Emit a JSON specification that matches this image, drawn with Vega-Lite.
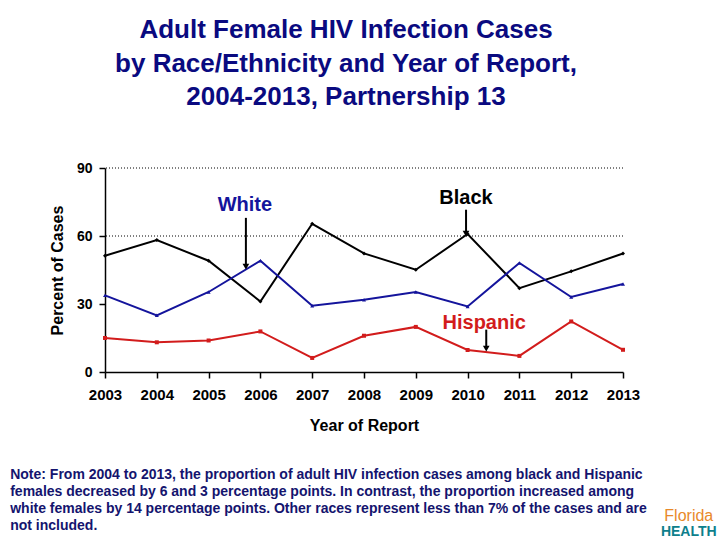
{
  "$schema": "https://vega.github.io/schema/vega-lite/v6.json",
  "autosize": {"type": "none"},
  "width": 518,
  "height": 204,
  "padding": {"left": 105, "top": 168, "right": 97, "bottom": 168},
  "background": "white",
  "config": {
    "font": "Liberation Sans",
    "view": {"stroke": null}
  },
  "title": {
    "text": ["Adult Female HIV Infection Cases", "by Race/Ethnicity and Year of Report,", "2004-2013, Partnership 13"],
    "anchor": "middle",
    "frame": "group",
    "dx": -18,
    "offset": 51,
    "fontSize": 26,
    "fontWeight": "bold",
    "color": "#0a0a80",
    "lineHeight": 33.5,
    "font": "Liberation Sans"
  },
  "datasets": {
    "series": [
      {"year": 2003, "group": "Black", "percent": 51.3},
      {"year": 2004, "group": "Black", "percent": 58.2},
      {"year": 2005, "group": "Black", "percent": 49.1},
      {"year": 2006, "group": "Black", "percent": 31.1},
      {"year": 2007, "group": "Black", "percent": 65.4},
      {"year": 2008, "group": "Black", "percent": 52.3},
      {"year": 2009, "group": "Black", "percent": 45.1},
      {"year": 2010, "group": "Black", "percent": 60.9},
      {"year": 2011, "group": "Black", "percent": 37.0},
      {"year": 2012, "group": "Black", "percent": 44.4},
      {"year": 2013, "group": "Black", "percent": 52.3},
      {"year": 2003, "group": "White", "percent": 33.8},
      {"year": 2004, "group": "White", "percent": 25.0},
      {"year": 2005, "group": "White", "percent": 35.3},
      {"year": 2006, "group": "White", "percent": 49.1},
      {"year": 2007, "group": "White", "percent": 29.2},
      {"year": 2008, "group": "White", "percent": 31.9},
      {"year": 2009, "group": "White", "percent": 35.3},
      {"year": 2010, "group": "White", "percent": 28.9},
      {"year": 2011, "group": "White", "percent": 48.1},
      {"year": 2012, "group": "White", "percent": 33.1},
      {"year": 2013, "group": "White", "percent": 38.8},
      {"year": 2003, "group": "Hispanic", "percent": 15.0},
      {"year": 2004, "group": "Hispanic", "percent": 13.1},
      {"year": 2005, "group": "Hispanic", "percent": 13.9},
      {"year": 2006, "group": "Hispanic", "percent": 17.9},
      {"year": 2007, "group": "Hispanic", "percent": 6.2},
      {"year": 2008, "group": "Hispanic", "percent": 16.0},
      {"year": 2009, "group": "Hispanic", "percent": 19.9},
      {"year": 2010, "group": "Hispanic", "percent": 9.7},
      {"year": 2011, "group": "Hispanic", "percent": 7.1},
      {"year": 2012, "group": "Hispanic", "percent": 22.3},
      {"year": 2013, "group": "Hispanic", "percent": 9.8}
    ],
    "labels": [
      {"group": "White", "year": 2005.70, "percent": 73.6, "arrowFrom": 68.0, "arrowTo": 46.5, "arrowYear": 2005.72},
      {"group": "Black", "year": 2009.97, "percent": 76.9, "arrowFrom": 71.6, "arrowTo": 61.0, "arrowYear": 2009.97},
      {"group": "Hispanic", "year": 2010.32, "percent": 21.7, "arrowFrom": 18.7, "arrowTo": 10.3, "arrowYear": 2010.36}
    ],
    "gridlines": [{"percent": 60}, {"percent": 90}]
  },
  "layer": [
    {
      "data": {"name": "gridlines"},
      "mark": {"type": "rule", "stroke": "#000000", "strokeDash": [1, 2], "strokeWidth": 1},
      "encoding": {
        "y": {"field": "percent", "type": "quantitative", "scale": {"domain": [0, 90]}}
      }
    },
    {
      "data": {"name": "series"},
      "mark": {"type": "line", "strokeWidth": 2},
      "encoding": {
        "x": {
          "field": "year", "type": "quantitative",
          "scale": {"domain": [2003, 2013], "nice": false, "zero": false},
          "axis": {
            "values": [2003, 2004, 2005, 2006, 2007, 2008, 2009, 2010, 2011, 2012, 2013],
            "format": "d", "grid": false,
            "domainColor": "#000000", "domainWidth": 1.5,
            "tickColor": "#000000", "tickSize": 6, "tickWidth": 1.5,
            "labelFont": "Liberation Sans", "labelFontSize": 15, "labelFontWeight": "bold", "labelColor": "#000000",
            "labelPadding": 9, "labelFlush": false,
            "title": "Year of Report", "titleFont": "Liberation Sans", "titleFontSize": 16, "titleFontWeight": "bold", "titleColor": "#000000", "titlePadding": 15
          }
        },
        "y": {
          "field": "percent", "type": "quantitative",
          "scale": {"domain": [0, 90], "nice": false},
          "axis": {
            "values": [0, 30, 60, 90], "grid": false,
            "domainColor": "#000000", "domainWidth": 1.5,
            "tickColor": "#000000", "tickSize": 6, "tickWidth": 1.5,
            "labelFont": "Liberation Sans", "labelFontSize": 14, "labelFontWeight": "bold", "labelColor": "#000000",
            "labelPadding": 7,
            "title": "Percent of Cases", "titleFont": "Liberation Sans", "titleFontSize": 16, "titleFontWeight": "bold", "titleColor": "#000000", "titlePadding": 11
          }
        },
        "color": {
          "field": "group", "type": "nominal",
          "scale": {"domain": ["Black", "White", "Hispanic"], "range": ["#000000", "#14149c", "#d21c1c"]},
          "legend": null
        },
        "detail": {"field": "group"}
      }
    },
    {
      "data": {"name": "series"},
      "mark": {"type": "point", "filled": true, "opacity": 1, "size": 16},
      "encoding": {
        "x": {"field": "year", "type": "quantitative"},
        "y": {"field": "percent", "type": "quantitative"},
        "color": {"field": "group", "type": "nominal", "legend": null},
        "shape": {
          "field": "group", "type": "nominal",
          "scale": {"domain": ["Black", "White", "Hispanic"], "range": ["diamond", "triangle-up", "square"]},
          "legend": null
        }
      }
    },
    {
      "data": {"name": "labels"},
      "mark": {"type": "rule", "stroke": "#000000", "strokeWidth": 2},
      "encoding": {
        "x": {"field": "arrowYear", "type": "quantitative"},
        "y": {"field": "arrowFrom", "type": "quantitative"},
        "y2": {"field": "arrowTo"}
      }
    },
    {
      "data": {"name": "labels"},
      "mark": {"type": "point", "shape": "triangle-down", "filled": true, "fill": "#000000", "opacity": 1, "size": 45, "strokeWidth": 0},
      "encoding": {
        "x": {"field": "arrowYear", "type": "quantitative"},
        "y": {"field": "arrowTo", "type": "quantitative"}
      }
    },
    {
      "data": {"name": "labels"},
      "mark": {"type": "text", "font": "Liberation Sans", "fontSize": 20, "fontWeight": "bold", "baseline": "middle", "align": "center"},
      "encoding": {
        "x": {"field": "year", "type": "quantitative"},
        "y": {"field": "percent", "type": "quantitative"},
        "text": {"field": "group"},
        "color": {
          "field": "group", "type": "nominal",
          "scale": {"domain": ["Black", "White", "Hispanic"], "range": ["#000000", "#14149c", "#d21c1c"]},
          "legend": null
        }
      }
    },
    {
      "data": {"values": [{"note": "Note:  From 2004 to 2013, the proportion of adult HIV infection cases among black and Hispanic\nfemales decreased by 6 and 3 percentage points.  In contrast, the proportion increased among\nwhite females by 14 percentage points. Other races represent less than 7%  of the cases and are\nnot included."}]},
      "mark": {"type": "text", "font": "Liberation Sans", "fontSize": 14, "fontWeight": "bold", "align": "left", "baseline": "middle", "lineBreak": "\n", "lineHeight": 17, "color": "#14146e"},
      "encoding": {
        "x": {"datum": 2001.17, "type": "quantitative"},
        "y": {"datum": -45.3, "type": "quantitative"},
        "text": {"field": "note"}
      }
    },
    {
      "data": {"values": [{"logo": "Florida"}]},
      "mark": {"type": "text", "font": "Liberation Sans", "fontSize": 16, "align": "center", "baseline": "alphabetic", "color": "#e8892a"},
      "encoding": {
        "x": {"datum": 2014.27, "type": "quantitative"},
        "y": {"datum": -65.8, "type": "quantitative"},
        "text": {"field": "logo"}
      }
    },
    {
      "data": {"values": [{"logo": "HEALTH"}]},
      "mark": {"type": "text", "font": "Liberation Sans", "fontSize": 14, "fontWeight": "bold", "align": "center", "baseline": "alphabetic", "color": "#0e7f8c"},
      "encoding": {
        "x": {"datum": 2014.27, "type": "quantitative"},
        "y": {"datum": -72.2, "type": "quantitative"},
        "text": {"field": "logo"}
      }
    }
  ]
}
